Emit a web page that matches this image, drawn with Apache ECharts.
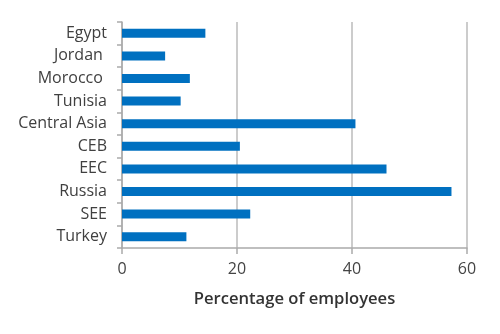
<!DOCTYPE html>
<html><head><meta charset="utf-8">
<script src="https://cdn.jsdelivr.net/npm/echarts@6/dist/echarts.min.js"></script>
<style>html,body{margin:0;padding:0;background:#fff}#c{width:500px;height:334px}</style>
</head><body><div id="c"></div>
<script>
const categories = ["Egypt", "Jordan ", "Morocco ", "Tunisia", "Central Asia", "CEB", "EEC", "Russia", "SEE", "Turkey"];
const values = [14.5, 7.5, 11.8, 10.2, 40.6, 20.5, 46.0, 57.3, 22.3, 11.2];
const xTicks = [0, 20, 40, 60];
const axisTitle = "Percentage of employees";

const chart = echarts.init(document.getElementById('c'));
chart.setOption({
  animation: false,
  grid: {left: 122, right: 33, top: 22, bottom: 86, containLabel: false},
  xAxis: {
    type: 'value', min: xTicks[0], max: xTicks[xTicks.length-1], interval: 20,
    name: axisTitle, nameLocation: 'middle', nameGap: 43,
    nameTextStyle: {fontFamily: 'Open Sans', fontSize: 16.6, fontWeight: 600, color: '#333'},
    axisLine: {show: true, lineStyle: {color: '#aaa', width: 1.5}},
    axisTick: {show: true, length: 6, lineStyle: {color: '#aaa', width: 1.5}},
    axisLabel: {fontFamily: 'Open Sans', fontSize: 16, color: '#444', margin: 13},
    splitLine: {show: true, lineStyle: {color: '#bbb', width: 1.5}}
  },
  yAxis: {
    type: 'category', data: categories, inverse: true,
    axisLine: {show: true, lineStyle: {color: '#aaa', width: 1.5}},
    axisTick: {show: true, length: 5, lineStyle: {color: '#aaa', width: 1.5}},
    axisLabel: {fontFamily: 'Open Sans', fontSize: 16, color: '#404040', margin: 15}
  },
  series: [{
    type: 'bar', data: values, barWidth: 9,
    itemStyle: {color: '#0070C0'}
  }]
});
</script></body></html>
